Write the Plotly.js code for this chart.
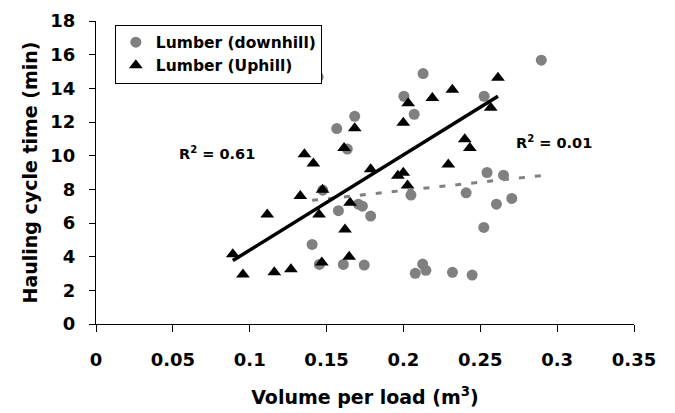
<!DOCTYPE html>
<html>
<head>
<meta charset="utf-8">
<script src="https://cdn.plot.ly/plotly-3.0.1.min.js"></script>
<style>
  html, body { margin: 0; padding: 0; background: #fff; }
  #chart { width: 675px; height: 413px; }
</style>
</head>
<body>
<div id="chart"></div>
<script>
// Lumber (downhill): volume per load (m3) and hauling cycle time (min)
const downhillVolume = [0.1445, 0.2128, 0.2003, 0.2070, 0.1683, 0.1566, 0.1635, 0.2897, 0.2525, 0.2544,
                        0.2651, 0.2049, 0.2408, 0.2605, 0.2705, 0.2523, 0.2125, 0.2146, 0.2077, 0.2319,
                        0.2447, 0.1475, 0.1577, 0.1707, 0.1733, 0.1787, 0.1406, 0.1453, 0.1609, 0.1745];
const downhillTime   = [14.68, 14.88, 13.53, 12.46, 12.34, 11.61, 10.39, 15.67, 13.53, 9.00,
                        8.84, 7.66, 7.79, 7.12, 7.46, 5.74, 3.56, 3.19, 3.01, 3.07,
                        2.91, 7.95, 6.73, 7.12, 7.00, 6.41, 4.73, 3.54, 3.54, 3.50];

// Lumber (Uphill)
const uphillVolume = [0.2615, 0.2318, 0.2188, 0.2031, 0.1999, 0.1683, 0.2568, 0.1614, 0.1356, 0.1414,
                      0.2399, 0.2432, 0.1787, 0.2292, 0.1964, 0.1999, 0.2027, 0.1474, 0.1329, 0.1653,
                      0.1114, 0.1451, 0.1620, 0.0890, 0.1647, 0.1469, 0.0956, 0.1160, 0.1268];
const uphillTime   = [14.63, 13.92, 13.43, 13.12, 11.95, 11.63, 12.84, 10.46, 10.09, 9.53,
                      10.97, 10.46, 9.19, 9.48, 8.80, 8.99, 8.23, 7.98, 7.60, 7.20,
                      6.51, 6.50, 5.61, 4.15, 3.99, 3.65, 2.94, 3.07, 3.25];

const seriesNames = ["Lumber (downhill)", "Lumber (Uphill)"];
const r2Labels = ["R<sup>2</sup> = 0.01", "R<sup>2</sup> = 0.61"];

// least-squares linear trend line over the data range
function trend(xs, ys) {
  const n = xs.length;
  const mx = xs.reduce((a, b) => a + b, 0) / n;
  const my = ys.reduce((a, b) => a + b, 0) / n;
  let sxy = 0, sxx = 0;
  for (let i = 0; i < n; i++) { sxy += (xs[i] - mx) * (ys[i] - my); sxx += (xs[i] - mx) ** 2; }
  const b = sxy / sxx, a = my - b * mx;
  const x0 = Math.min(...xs), x1 = Math.max(...xs);
  return { x: [x0, x1], y: [a + b * x0, a + b * x1] };
}
const tDown = trend(downhillVolume, downhillTime);
const tUp = trend(uphillVolume, uphillTime);

const FONT = "DejaVu Sans, Verdana, sans-serif";

const traces = [
  { type: "scatter", mode: "markers", name: seriesNames[0],
    x: downhillVolume, y: downhillTime,
    marker: { symbol: "circle", size: 11, color: "#808080" } },
  { type: "scatter", mode: "markers", name: seriesNames[1],
    x: uphillVolume, y: uphillTime,
    marker: { symbol: "triangle-up", size: 12, color: "#000000" } },
  { type: "scatter", mode: "lines", showlegend: false, hoverinfo: "skip",
    x: tDown.x, y: tDown.y,
    line: { color: "#808080", width: 3, dash: "6px,10px" } },
  { type: "scatter", mode: "lines", showlegend: false, hoverinfo: "skip",
    x: tUp.x, y: tUp.y,
    line: { color: "#000000", width: 3.5 } }
];

const layout = {
  width: 675, height: 413,
  margin: { l: 95.5, r: 40.5, t: 20.7, b: 89 },
  paper_bgcolor: "#ffffff", plot_bgcolor: "#ffffff",
  font: { family: FONT, color: "#000000", size: 17, weight: "bold" },
  showlegend: true,
  legend: {
    x: 0.035, y: 0.988, xanchor: "left", yanchor: "top",
    bgcolor: "#ffffff", bordercolor: "#000000", borderwidth: 1,
    font: { family: FONT, size: 15.5, color: "#000000", weight: "bold" },
    tracegroupgap: 0
  },
  xaxis: {
    range: [0, 0.35], dtick: 0.05, tick0: 0,
    showgrid: false, zeroline: false,
    showline: true, linecolor: "#000000", linewidth: 1,
    ticks: "outside", ticklen: 7, tickcolor: "#000000",
    tickfont: { family: FONT, size: 18, color: "#000000", weight: "bold" },
    ticklabelstandoff: 12,
    title: { text: "Volume per load (m<sup>3</sup>)", standoff: 22,
             font: { family: FONT, size: 19, color: "#000000", weight: "bold" } }
  },
  yaxis: {
    range: [0, 18], dtick: 2, tick0: 0,
    showgrid: false, zeroline: false,
    showline: true, linecolor: "#000000", linewidth: 1,
    ticks: "outside", ticklen: 6, tickcolor: "#000000",
    tickfont: { family: FONT, size: 18, color: "#000000", weight: "bold" },
    ticklabelstandoff: 10,
    title: { text: "Hauling cycle time (min)", standoff: 7,
             font: { family: FONT, size: 19, color: "#000000", weight: "bold" } }
  },
  annotations: [
    { x: 0.0789, y: 10.15, xref: "x", yref: "y", text: r2Labels[1], showarrow: false,
      font: { family: FONT, size: 14.5, color: "#000000", weight: "bold" } },
    { x: 0.2977, y: 10.82, xref: "x", yref: "y", text: r2Labels[0], showarrow: false,
      font: { family: FONT, size: 14.5, color: "#000000", weight: "bold" } }
  ]
};

Plotly.newPlot("chart", traces, layout, { displayModeBar: false, staticPlot: true });
</script>
</body>
</html>
